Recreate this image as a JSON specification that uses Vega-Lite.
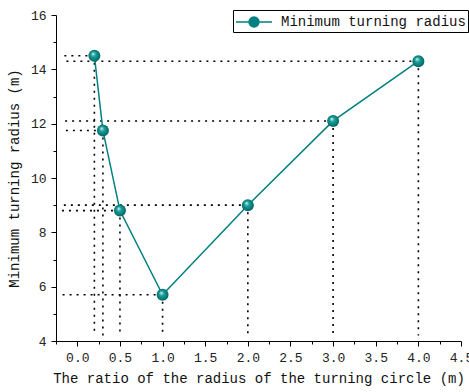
{
  "$schema": "https://vega.github.io/schema/vega-lite/v6.json",
  "width": 405,
  "height": 326,
  "autosize": {"type": "none"},
  "padding": {"left": 56, "top": 15, "right": 8, "bottom": 51},
  "background": "white",
  "config": {
    "view": {"stroke": null},
    "font": "Liberation Mono",
    "axis": {
      "labelFont": "Liberation Mono",
      "titleFont": "Liberation Mono",
      "labelFontSize": 13,
      "titleFontSize": 14,
      "titleFontWeight": "normal",
      "labelColor": "#222",
      "titleColor": "#111",
      "domainColor": "black",
      "tickColor": "black",
      "grid": false
    }
  },
  "data": {
    "values": [
      {"x": 0.2, "y": 14.5, "series": "Minimum turning radius"},
      {"x": 0.3, "y": 11.75, "series": "Minimum turning radius"},
      {"x": 0.5, "y": 8.8, "series": "Minimum turning radius"},
      {"x": 1.0, "y": 5.7, "series": "Minimum turning radius"},
      {"x": 2.0, "y": 9.0, "series": "Minimum turning radius"},
      {"x": 3.0, "y": 12.1, "series": "Minimum turning radius"},
      {"x": 4.0, "y": 14.3, "series": "Minimum turning radius"}
    ]
  },
  "resolve": {"axis": {"x": "independent", "y": "independent"}},
  "layer": [
    {
      "mark": {"type": "rule", "color": "black", "strokeWidth": 1.6, "strokeDash": [2, 5]},
      "encoding": {
        "x": {"field": "x", "type": "quantitative",
          "scale": {"domain": [-0.25, 4.5], "nice": false, "zero": false},
          "axis": {"orient": "bottom", "values": [0, 0.5, 1, 1.5, 2, 2.5, 3, 3.5, 4, 4.5], "format": ".1f", "tickSize": 5, "labelPadding": 5, "title": "The ratio of the radius of the turning circle (m)", "titlePadding": 7, "labelFlush": false}},
        "x2": {"datum": -0.18},
        "y": {"field": "y", "type": "quantitative",
          "scale": {"domain": [4, 16], "nice": false, "zero": false},
          "axis": {"orient": "left", "values": [4, 6, 8, 10, 12, 14, 16], "tickSize": 5, "labelPadding": 5, "title": "Minimum turning radius (m)", "titlePadding": 9, "labelFlush": false}}
      }
    },
    {
      "mark": {"type": "rule", "color": "black", "strokeWidth": 1.6, "strokeDash": [2, 5]},
      "encoding": {
        "x": {"field": "x", "type": "quantitative",
          "axis": {"orient": "bottom", "values": [-0.25, 0.25, 0.75, 1.25, 1.75, 2.25, 2.75, 3.25, 3.75, 4.25], "tickSize": 3, "labels": false, "domain": false, "title": null}},
        "y": {"field": "y", "type": "quantitative",
          "axis": {"orient": "left", "values": [5, 7, 9, 11, 13, 15], "tickSize": 3, "labels": false, "domain": false, "title": null}},
        "y2": {"datum": 4.2}
      }
    },
    {
      "mark": {"type": "line", "strokeWidth": 1.5},
      "encoding": {
        "x": {"field": "x", "type": "quantitative", "axis": null},
        "y": {"field": "y", "type": "quantitative", "axis": null},
        "color": {"field": "series", "type": "nominal",
          "scale": {"range": ["#008080"]},
          "legend": {
            "orient": "none", "legendX": 177, "legendY": -5,
            "title": null,
            "strokeColor": "black", "fillColor": "white", "padding": 2,
            "labelFont": "Liberation Mono", "labelFontSize": 14, "labelColor": "#111",
            "labelLimit": 400,
            "symbolOffset": 9,
            "labelOffset": 17,
            "symbolType": "M-2,0H-0.55M0.55,0H2M-0.55,0A0.55,0.55,0,1,1,0.55,0A0.55,0.55,0,1,1,-0.55,0",
            "symbolSize": 324,
            "symbolStrokeWidth": 1.5,
            "encode": {"symbols": {"update": {"fill": {"value": "#008080"}, "stroke": {"value": "#008080"}}}}
          }}
      }
    },
    {
      "mark": {"type": "point", "filled": true, "size": 144, "opacity": 1, "strokeWidth": 0,
        "fill": {"gradient": "radial", "x1": 0.38, "y1": 0.32, "r1": 0, "x2": 0.5, "y2": 0.5, "r2": 0.55,
          "stops": [{"offset": 0, "color": "#e8f8f6"}, {"offset": 0.35, "color": "#1aa19c"}, {"offset": 1, "color": "#005f5c"}]}},
      "encoding": {
        "x": {"field": "x", "type": "quantitative", "axis": null},
        "y": {"field": "y", "type": "quantitative", "axis": null}
      }
    }
  ]
}
